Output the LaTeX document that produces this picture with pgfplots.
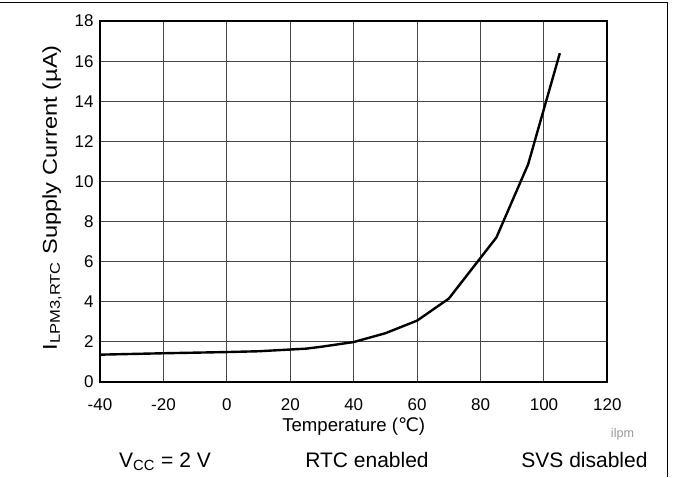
\documentclass[border=0pt]{standalone}
\usepackage{fontspec}
\setmainfont{Liberation Sans}
\newfontfamily\dejavu{DejaVu Sans}
\usepackage{graphicx}
\usepackage{pgfplots}
\usepackage{pgfplotstable}
\pgfplotsset{compat=1.18}

% supply current vs temperature
\pgfplotstableread{
t    I
-40  1.35
-20  1.42
0    1.48
10   1.52
25   1.65
30   1.75
40   1.98
50   2.42
60   3.05
70   4.15
85   7.2
95   10.85
105  16.4
}\ilpmdata

\begin{document}
\begin{tikzpicture}[x=1pt,y=1pt]
\path[use as bounding box] (-50,-47.65) rectangle (286.5,190.85);
\begin{axis}[
    at={(0,0)}, anchor=south west,
    scale only axis, width=253.7pt, height=180.3pt,
    xmin=-40, xmax=120, ymin=0, ymax=18,
    xtick={-40,-20,...,120}, ytick={0,2,...,18},
    grid=major,
    major grid style={black!72, line width=0.5pt},
    axis line style={line width=1pt},
    major tick length=0pt,
    /pgf/number format/assume math mode=true,
    tick label style={font=\fontsize{8.5}{10}\selectfont},
    xticklabel style={anchor=base, inner sep=0pt, yshift=-14.5pt},
    yticklabel style={anchor=east, inner sep=0pt, xshift=-3pt},
    xlabel={Temperature ({\dejavu ℃})},
    x label style={at={(axis description cs:0.5,0)}, anchor=base,
        yshift=-25pt, inner sep=0pt, font=\fontsize{9.3}{11}\selectfont},
]
\addplot[black, line width=1.2pt] table[x=t, y=I] {\ilpmdata};
\end{axis}
\node[rotate=90, anchor=base, inner sep=0pt, font=\fontsize{10}{12}\selectfont]
    at (-21.5,92) {\scalebox{1.18}[1]{I\textsubscript{LPM3,RTC} Supply Current (µA)}};
\node[anchor=base, inner sep=0pt, font=\fontsize{6.3}{7}\selectfont, text=black!40]
    at (261.25,-28) {ilpm};
\begin{scope}[every node/.style={anchor=base, inner sep=0pt, font=\fontsize{10.5}{12}\selectfont}]
\node at (32.5,-42.8) {V\textsubscript{CC} = 2 V};
\node at (133.5,-42.8) {RTC enabled};
\node at (242.25,-42.8) {SVS disabled};
\end{scope}
\draw[line width=0.5pt] (-50,189.35) -- (283.85,189.35) -- (283.85,-47.65);
\end{tikzpicture}
\end{document}
